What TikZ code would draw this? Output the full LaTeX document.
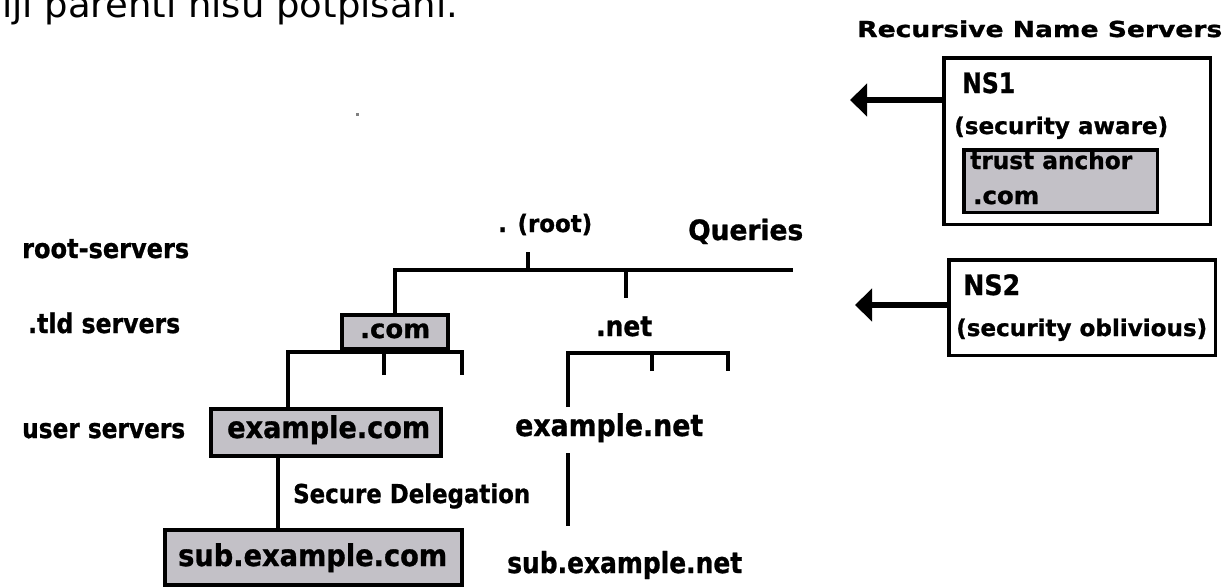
\documentclass[tikz,border=0pt]{standalone}
\usepackage{fontspec}
\setmainfont{DejaVu Sans}[BoldFeatures={FakeBold=1}]
\usepackage{graphicx}
\usetikzlibrary{arrows.meta}
\definecolor{boxgray}{RGB}{195,193,199}
\newcommand\fitw[2]{\resizebox{#1pt}{\height}{#2}}
\newcommand\fsz[1]{\fontsize{#1pt}{#1pt}\selectfont}
\begin{document}
\begin{tikzpicture}[x=1pt,y=-1pt,
  lab/.style={inner sep=0pt, anchor=base west},
  tree/.style={line width=3.5pt, line join=miter},
  gbox/.style={draw, line width=4pt, fill=boxgray, inner sep=0pt},
  wbox/.style={draw, line width=4pt, fill=white, inner sep=0pt},
  arr/.style={line width=5.5pt, -{Triangle[length=17pt,width=32pt]}}]
\useasboundingbox (0,0) rectangle (1227,587);
\fill[white] (0,0) rectangle (1227,587);
\clip (0,0) rectangle (1227,587);

% top text (cut off at the top edge, as in the reference)
\node[lab, font=\fsz{36}] (toptext) at (2,17.5) {\fitw{456}{iji parenti nisu potpisani.}};

% stray dot
\fill[gray] (355.5,112.5) rectangle (358.5,115.5);

% level labels
\node[lab, font=\fsz{27}\bfseries] (rootsrv) at (22,258) {\fitw{167}{root-servers}};
\node[lab, font=\fsz{27}\bfseries] (tldsrv) at (28,333) {\fitw{152}{.tld servers}};
\node[lab, font=\fsz{27}\bfseries] (usersrv) at (22,438) {\fitw{163}{user servers}};

% root
\node[lab, font=\fsz{24}\bfseries] (root) at (498,232) {\fitw{94}{. (root)}};
\node[lab, font=\fsz{28}\bfseries] (queries) at (688,240) {\fitw{115}{Queries}};
\coordinate (rootT) at (528,252);
\coordinate (rootJ) at (528,270);
\coordinate (rR) at (793,270);
\coordinate (netJ) at (626,270);
\coordinate (netB) at (626,298);

% boxes
\node[gbox, minimum width=106pt, minimum height=34pt] (com) at (395,332) {};
\node[lab, font=\fsz{26}\bfseries] (comtxt) at (360,338) {\fitw{70}{.com}};
\node[gbox, minimum width=230pt, minimum height=47pt] (exc) at (326,432.5) {};
\node[lab, font=\fsz{30}\bfseries] (exctxt) at (227,438) {\fitw{203}{example.com}};
\node[gbox, minimum width=297pt, minimum height=55pt] (subc) at (313.5,557.5) {};
\node[lab, font=\fsz{30}\bfseries] (subctxt) at (178,566) {\fitw{269}{sub.example.com}};

% .net side
\node[lab, font=\fsz{28}\bfseries] (net) at (596,336) {\fitw{56}{.net}};
\node[lab, font=\fsz{30}\bfseries] (exn) at (515,436) {\fitw{188}{example.net}};
\node[lab, font=\fsz{29}\bfseries] (subn) at (507,573) {\fitw{235}{sub.example.net}};
\node[lab, font=\fsz{26}\bfseries] (secdel) at (293,503) {\fitw{237}{Secure Delegation}};

% tree connectors
\draw[tree] (rootT) -- (rootJ);
\draw[tree] (com.north) |- (rR);
\draw[tree] (netJ) -- (netB);

\coordinate (cbL) at (288,352);
\coordinate (cbR) at (462,352);
\coordinate (cT1) at (384,375);
\coordinate (cT2) at (462,375);
\draw[tree] (exc.north -| cbL) -- (cbL) -- (cbR) -- (cT2);
\draw[tree] (cT1) -- (cT1 |- cbL);

\coordinate (nbL) at (568,353);
\coordinate (nbR) at (728,353);
\coordinate (nT1) at (652,371);
\coordinate (nT2) at (728,371);
\coordinate (nbD) at (568,407);
\draw[tree] (nbD) -- (nbL) -- (nbR) -- (nT2);
\draw[tree] (nT1) -- (nT1 |- nbL);

\coordinate (dX) at (278,0);
\draw[tree] (exc.south -| dX) -- (subc.north -| dX);

\coordinate (enT) at (568,453);
\coordinate (enB) at (568,526);
\draw[tree] (enT) -- (enB);

% recursive name servers
\node[lab, font=\fsz{22}\bfseries] (rns) at (857,37) {\fitw{365}{Recursive Name Servers}};
\node[wbox, line width=3.5pt, minimum width=266.5pt, minimum height=166.5pt] (ns1) at (1077,141) {};
\node[lab, font=\fsz{28}\bfseries] (ns1t) at (962,93) {\fitw{53}{NS1}};
\node[lab, font=\fsz{23}\bfseries] (ns1s) at (954,134) {\fitw{214}{(security aware)}};
\node[gbox, line width=3.5pt, minimum width=193.5pt, minimum height=62.5pt] (ta) at (1060.5,181) {};
\node[lab, font=\fsz{24}\bfseries] (tat) at (970,169) {\fitw{162}{trust anchor}};
\node[lab, font=\fsz{24}\bfseries] (tac) at (973,204) {\fitw{66}{.com}};

\node[wbox, line width=3.5pt, minimum width=266.5pt, minimum height=95.5pt] (ns2) at (1082,307.5) {};
\node[lab, font=\fsz{28}\bfseries] (ns2t) at (963,295) {\fitw{57}{NS2}};
\node[lab, font=\fsz{23}\bfseries] (ns2s) at (956,336) {\fitw{251}{(security oblivious)}};

\coordinate (a1) at (850,100);
\coordinate (a2) at (855,305);
\draw[arr] (ns1.west |- a1) -- (a1);
\draw[arr] (ns2.west |- a2) -- (a2);
\end{tikzpicture}
\end{document}
